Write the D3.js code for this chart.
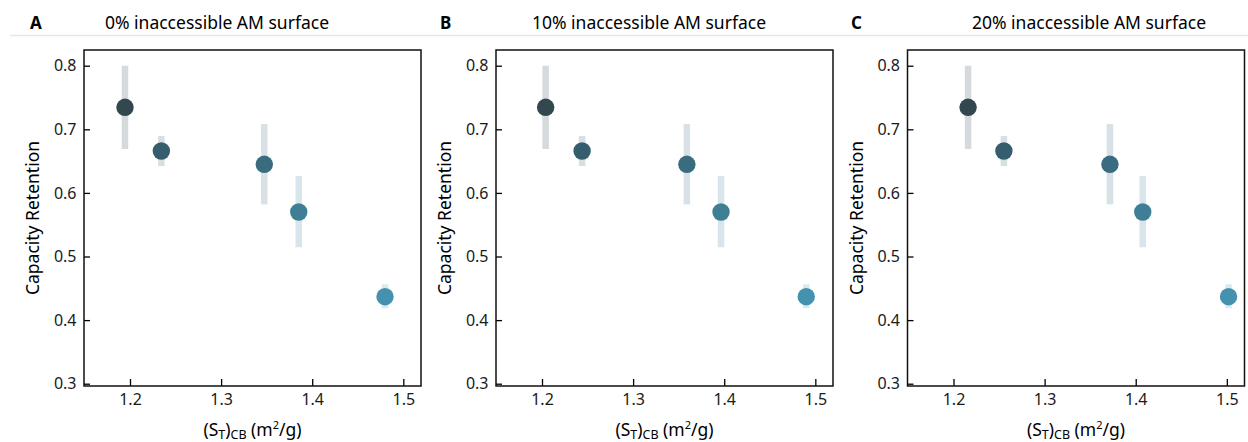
<!DOCTYPE html>
<html>
<head>
<meta charset="utf-8">
<script src="https://cdn.jsdelivr.net/npm/d3@7"></script>
<style>
  body { margin: 0; background: #fff; }
  text { font-family: "Noto Sans", sans-serif; }
</style>
</head>
<body>
<div id="chart"></div>
<script>
// capacity retention vs carbon black surface area, three scenarios
const letters = ["A", "B", "C"]
const titles = ["0% inaccessible AM surface", "10% inaccessible AM surface", "20% inaccessible AM surface"]
const surfA = [1.1945, 1.2344, 1.3474, 1.3852, 1.4799]
const surfB = [1.2040, 1.2440, 1.3590, 1.3965, 1.4900]
const surfC = [1.2160, 1.2553, 1.3717, 1.4077, 1.5019]
const retention = [0.7346, 0.6659, 0.6450, 0.5700, 0.4368]
const errLow = [0.669, 0.6423, 0.582, 0.5145, 0.4186]
const errHigh = [0.800, 0.6895, 0.7083, 0.6266, 0.4563]
const colors = ["#33474f", "#365d6e", "#3a6c80", "#3e7f96", "#4492b0"]
const xTicks = [1.2, 1.3, 1.4, 1.5]
const yTicks = [0.3, 0.4, 0.5, 0.6, 0.7, 0.8]

const W = 1248, H = 442
const panelLeft = [84, 496, 907.5]
const pw = 337, plotTop = 50, plotBottom = 386
const ph = plotBottom - plotTop

const svg = d3.select("#chart")
  .append("svg")
    .attr("width", W)
    .attr("height", H)

// thin separator under the headings
svg.append("line")
  .attr("x1", 10).attr("x2", W)
  .attr("y1", 35.5).attr("y2", 35.5)
  .attr("stroke", "#e6e6e6")
  .attr("stroke-width", 1.5)

const letterX = [30, 440, 851]
const titleX = [217, 649, 1089]
const surfs = [surfA, surfB, surfC]

panelLeft.forEach((left, p) => {
  const x = d3.scaleLinear().domain([1.1495, 1.5194]).range([0, pw])
  const y = d3.scaleLinear().domain([0.2964, 0.8247]).range([ph, 0])

  const g = svg.append("g").attr("transform", `translate(${left},${plotTop})`)

  svg.append("text")
    .attr("x", letterX[p]).attr("y", 29)
    .attr("font-size", "17px").attr("font-weight", "bold")
    .text(letters[p])
  svg.append("text")
    .attr("x", titleX[p]).attr("y", 29)
    .attr("text-anchor", "middle")
    .attr("font-size", "17.5px")
    .text(titles[p])

  const pts = surfs[p].map((s, i) => ({s, r: retention[i], lo: errLow[i], hi: errHigh[i], c: colors[i]}))

  g.selectAll(".err")
    .data(pts)
    .join("line")
      .attr("class", "err")
      .attr("x1", d => x(d.s)).attr("x2", d => x(d.s))
      .attr("y1", d => y(d.lo)).attr("y2", d => y(d.hi))
      .attr("stroke", d => d.c)
      .attr("stroke-opacity", 0.2)
      .attr("stroke-width", 6.5)

  g.selectAll(".dot")
    .data(pts)
    .join("circle")
      .attr("class", "dot")
      .attr("cx", d => x(d.s))
      .attr("cy", d => y(d.r))
      .attr("r", 8.7)
      .attr("fill", d => d.c)

  // axes with inward ticks
  const xa = g.append("g")
    .attr("transform", `translate(0,${ph})`)
    .call(d3.axisBottom(x).tickValues(xTicks).tickFormat(d3.format(".1f")).tickSizeInner(-7).tickSizeOuter(0).tickPadding(8))
  xa.select(".domain").remove()
  xa.selectAll("text").attr("font-size", "16px").attr("fill", "#1a1a1a")
    .style("font-family", "'Noto Sans', sans-serif")
  xa.selectAll("line").attr("stroke-width", 1.3)

  const ya = g.append("g")
    .call(d3.axisLeft(y).tickValues(yTicks).tickFormat(d3.format(".1f")).tickSizeInner(-6).tickSizeOuter(0).tickPadding(7.5))
  ya.select(".domain").remove()
  ya.selectAll("text").attr("font-size", "16px").attr("fill", "#1a1a1a")
    .style("font-family", "'Noto Sans', sans-serif")
  ya.selectAll("line").attr("stroke-width", 1.3)

  g.append("rect")
    .attr("width", pw).attr("height", ph)
    .attr("fill", "none")
    .attr("stroke", "#111")
    .attr("stroke-width", 1.5)

  g.append("text")
    .attr("transform", `translate(${-45},${ph / 2}) rotate(-90)`)
    .attr("text-anchor", "middle")
    .attr("font-size", "17.5px")
    .text("Capacity Retention")

  const xl = g.append("text")
    .attr("x", pw / 2).attr("y", ph + 50)
    .attr("text-anchor", "middle")
    .attr("font-size", "17.5px")
  xl.append("tspan").text("(S")
  xl.append("tspan").attr("font-size", "12.5px").attr("dy", 3).text("T")
  xl.append("tspan").attr("dy", -3).text(")")
  xl.append("tspan").attr("font-size", "12.5px").attr("dy", 3).text("CB")
  xl.append("tspan").attr("dy", -3).text(" (m")
  xl.append("tspan").attr("font-size", "11px").attr("dy", -7).text("2")
  xl.append("tspan").attr("dy", 7).text("/g)")
})
</script>
</body>
</html>
